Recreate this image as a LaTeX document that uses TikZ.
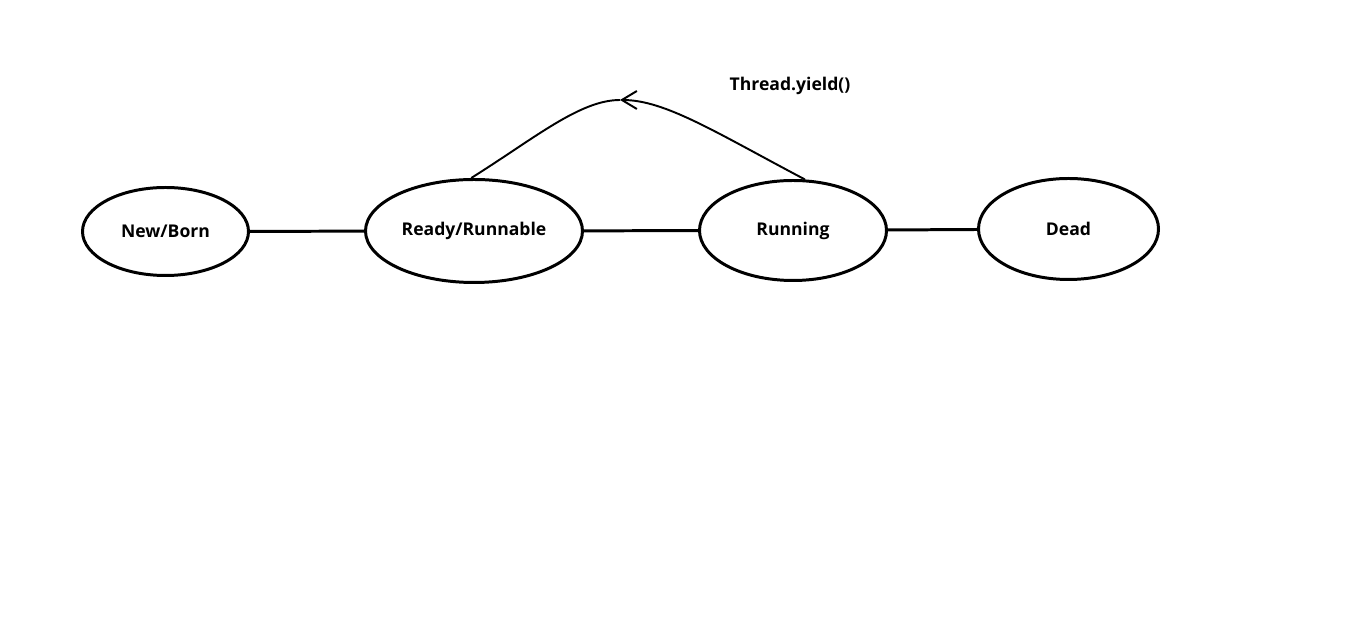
\documentclass[tikz,border=0pt]{standalone}
\usepackage{fontspec}
\setsansfont{Open Sans}
\usetikzlibrary{shapes.geometric,arrows.meta}
\begin{document}
\begin{tikzpicture}[
	phase/.style={ellipse,draw,line width=1.7pt,inner sep=0pt,font={\sffamily\bfseries\fontsize{10}{12}\selectfont}},
	link/.style={line width=1.7pt},
	back/.style={line width=1.1pt}]

				\useasboundingbox (0,0) rectangle (27.2,12.36);

				\node[phase,minimum width=3.32cm,minimum height=1.76cm] (born) at (3.31,7.73) {New/Born};
				\node[phase,minimum width=4.34cm,minimum height=2.06cm] (ready) at (9.48,7.74) {Ready/Runnable};
				\node[phase,minimum width=3.74cm,minimum height=2.0cm] (running) at (15.86,7.75) {Running};
				\node[phase,minimum width=3.6cm,minimum height=2.02cm] (dead) at (21.37,7.78) {Dead};

				\draw[link] (born) -- (ready);
				\draw[link] (ready) -- (running);
				\draw[link] (running) -- (dead);

				% yield goes back from running to ready
				\coordinate (top) at (12.4,10.36);
				\draw[back,-{Straight Barb[length=0.3cm,width=0.36cm]}] (running.77) .. controls (14.3,9.72) and (13.3,10.36) .. (top);
				\draw[back] (top) .. controls (11.6,10.36) and (10.7,9.6) .. (ready.93);

				\node[font={\sffamily\bfseries\fontsize{10}{12}\selectfont}] (yield) at (15.8,10.64) {Thread.yield()};

			\end{tikzpicture}
\end{document}
